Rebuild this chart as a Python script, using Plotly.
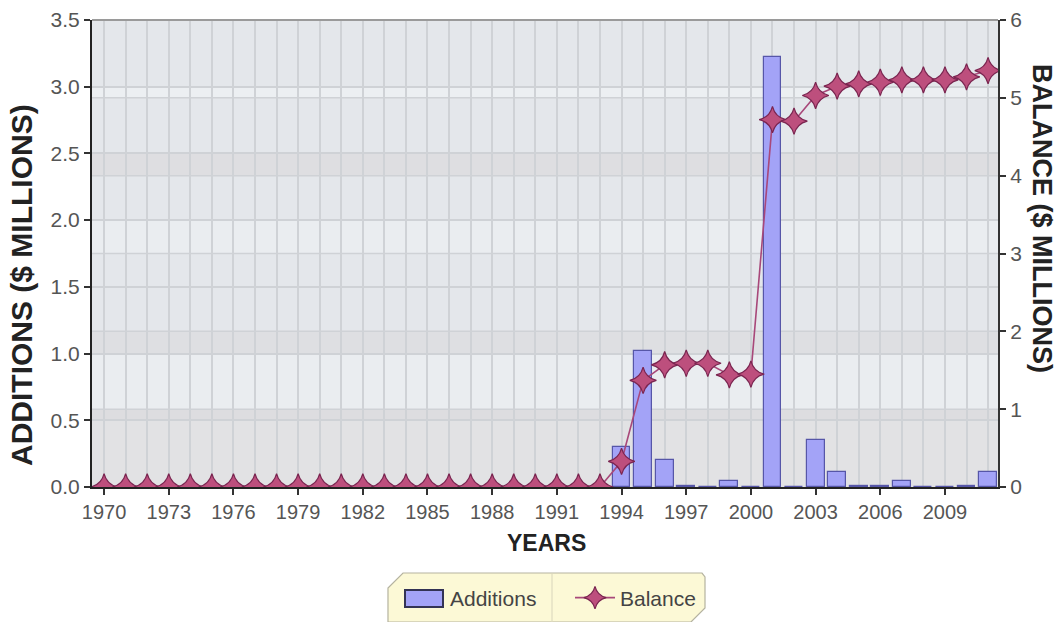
import plotly.graph_objects as go

# Fund activity by year
years = list(range(1970, 2012))

additions = [
    0, 0, 0, 0, 0, 0, 0, 0, 0, 0,          # 1970-1979
    0, 0, 0, 0, 0, 0, 0, 0, 0, 0,          # 1980-1989
    0, 0, 0, 0, 0.30, 1.02, 0.20, 0.004, 0, 0.045,   # 1990-1999
    0, 3.22, 0, 0.35, 0.11, 0.01, 0.01, 0.045, 0, 0,  # 2000-2009
    0.005, 0.11,                             # 2010-2011
]

balance = [
    0, 0, 0, 0, 0, 0, 0, 0, 0, 0,
    0, 0, 0, 0, 0, 0, 0, 0, 0, 0,
    0, 0, 0, 0, 0.33, 1.37, 1.57, 1.59, 1.59, 1.44,
    1.45, 4.72, 4.70, 5.03, 5.15, 5.18, 5.20, 5.23, 5.23, 5.23,
    5.27, 5.35,
]

x_tick_years = [1970, 1973, 1976, 1979, 1982, 1985, 1988, 1991, 1994, 1997, 2000, 2003, 2006, 2009]
left_ticks = [0.0, 0.5, 1.0, 1.5, 2.0, 2.5, 3.0, 3.5]
right_ticks = [0, 1, 2, 3, 4, 5, 6]

FONT = "Liberation Sans, Arial, sans-serif"
TICK_COLOR = "#555555"
GRID = "#cfd2d6"
BAR_FILL = "#a3a3f7"
BAR_EDGE = "#5656a8"

fig = go.Figure()

fig.add_trace(go.Bar(
    x=years, y=additions, name="Additions", yaxis="y",
    width=0.83, legendgroup="add", showlegend=False,
    marker=dict(color=BAR_FILL, line=dict(color=BAR_EDGE, width=1.2)),
))
# legend entry for the bars (drawn over a wider swatch below)
fig.add_trace(go.Bar(
    x=[None], y=[None], name="Additions", yaxis="y", legendgroup="add",
    marker=dict(color=BAR_FILL, line=dict(color=BAR_FILL, width=0)),
))

fig.add_trace(go.Scatter(
    x=years, y=balance, name="Balance", yaxis="y2",
    mode="lines+markers",
    line=dict(color="#a8487a", width=1.6),
    marker=dict(symbol="star-diamond", size=19, color="#bd4f7d",
                line=dict(color="#7a2550", width=1.2)),
))

# soft horizontal bands in the plotting area (left-axis units)
bands = [
    (0.0, 0.5, "#e2e2e4"),
    (0.5, 0.5833, "#dddde0"),
    (0.5833, 1.0, "#eaedf0"),
    (1.0, 1.1667, "#dedfe2"),
    (1.75, 2.0, "#eaedf0"),
    (2.3333, 2.5, "#dedee1"),
    (2.9167, 3.0, "#eceff2"),
]
shapes = []
for y0, y1, c in bands:
    shapes.append(dict(type="rect", xref="paper", yref="y", x0=0, x1=1, y0=y0, y1=y1,
                       fillcolor=c, line=dict(width=0), layer="below"))

# gridlines matching the right-axis ticks
for v in right_ticks[1:-1]:
    shapes.append(dict(type="line", xref="paper", yref="y2", x0=0, x1=1, y0=v, y1=v,
                       line=dict(color=GRID, width=1.5), layer="below"))

# top border of the plotting area
shapes.append(dict(type="line", xref="paper", yref="paper", x0=0, x1=1, y0=1, y1=1,
                   line=dict(color="#9a9a9a", width=2)))


def px(xp, yp):
    return (xp - 92) / 906, (487 - yp) / 467


# legend panel with bevelled corners
pts = [(388, 588), (403, 573), (702, 573), (705, 577), (705, 608), (691, 622), (388, 622)]
path = "M " + " L ".join(f"{px(a, b)[0]:.4f},{px(a, b)[1]:.4f}" for a, b in pts) + " Z"
shapes.append(dict(type="path", xref="paper", yref="paper", path=path,
                   fillcolor="#fcf9d6", line=dict(color="#b5b3a0", width=1.2)))
d0 = px(552, 574)
d1 = px(552, 622)
shapes.append(dict(type="line", xref="paper", yref="paper", x0=d0[0], x1=d1[0], y0=d0[1], y1=d1[1],
                   line=dict(color="#dedbc0", width=1.2)))
# wider swatch behind the bar legend symbol
s0 = px(405, 590)
s1 = px(443, 607)
shapes.append(dict(type="rect", xref="paper", yref="paper", x0=s0[0], x1=s1[0], y0=s0[1], y1=s1[1],
                   fillcolor=BAR_FILL, line=dict(color="#333355", width=2)))

annotations = [
    dict(text="<b>ADDITIONS ($ MILLIONS)</b>", xref="paper", yref="paper",
         x=px(21, 0)[0], y=px(0, 285)[1], xanchor="center", yanchor="middle",
         textangle=-90, showarrow=False,
         font=dict(family=FONT, size=30, color="#222222")),
    dict(text="<b>BALANCE ($ MILLIONS)</b>", xref="paper", yref="paper",
         x=px(1042, 0)[0], y=px(0, 218)[1], xanchor="center", yanchor="middle",
         textangle=90, showarrow=False,
         font=dict(family=FONT, size=27, color="#222222")),
    dict(text="<b>YEARS</b>", xref="paper", yref="paper",
         x=px(546, 0)[0], y=px(0, 543)[1], xanchor="center", yanchor="middle",
         showarrow=False,
         font=dict(family=FONT, size=23, color="#222222")),
]

fig.update_layout(
    width=1058, height=622,
    margin=dict(l=92, r=60, t=20, b=135, autoexpand=False),
    paper_bgcolor="white",
    plot_bgcolor="#e4e7eb",
    font=dict(family=FONT, color=TICK_COLOR),
    bargap=0,
    shapes=shapes,
    annotations=annotations,
    showlegend=True,
    legend=dict(orientation="h",
                xref="container", yref="container",
                x=400 / 1058, xanchor="left", y=(622 - 598) / 622, yanchor="middle",
                bgcolor="rgba(0,0,0,0)", borderwidth=0,
                font=dict(family=FONT, size=21, color="#444444"),
                itemwidth=40, entrywidth=115),
    xaxis=dict(
        range=[1969.44, 2011.46],
        tickvals=x_tick_years,
        ticktext=[str(y) for y in x_tick_years],
        ticks="outside", ticklen=6, tickwidth=2, tickcolor="#333333",
        tickfont=dict(family=FONT, size=20, color=TICK_COLOR),
        showgrid=False,
        minor=dict(dtick=1, tick0=1970, showgrid=True, gridcolor=GRID, gridwidth=1.5, ticks=""),
        showline=True, linecolor="#222222", linewidth=2,
        zeroline=False,
    ),
    yaxis=dict(
        range=[0, 3.5],
        tickvals=left_ticks,
        ticktext=[f"{v:.1f}" for v in left_ticks],
        ticks="outside", ticklen=6, tickwidth=2, tickcolor="#333333",
        tickfont=dict(family=FONT, size=21, color=TICK_COLOR),
        showgrid=True, gridcolor=GRID, gridwidth=1.5,
        showline=True, linecolor="#222222", linewidth=2,
        zeroline=False,
    ),
    yaxis2=dict(
        range=[0, 6],
        overlaying="y", side="right",
        tickvals=right_ticks,
        ticks="outside", ticklen=6, tickwidth=2, tickcolor="#333333",
        tickfont=dict(family=FONT, size=21, color=TICK_COLOR),
        showgrid=False,
        showline=True, linecolor="#333333", linewidth=2,
        zeroline=False,
    ),
)

fig.write_html("out.html")
